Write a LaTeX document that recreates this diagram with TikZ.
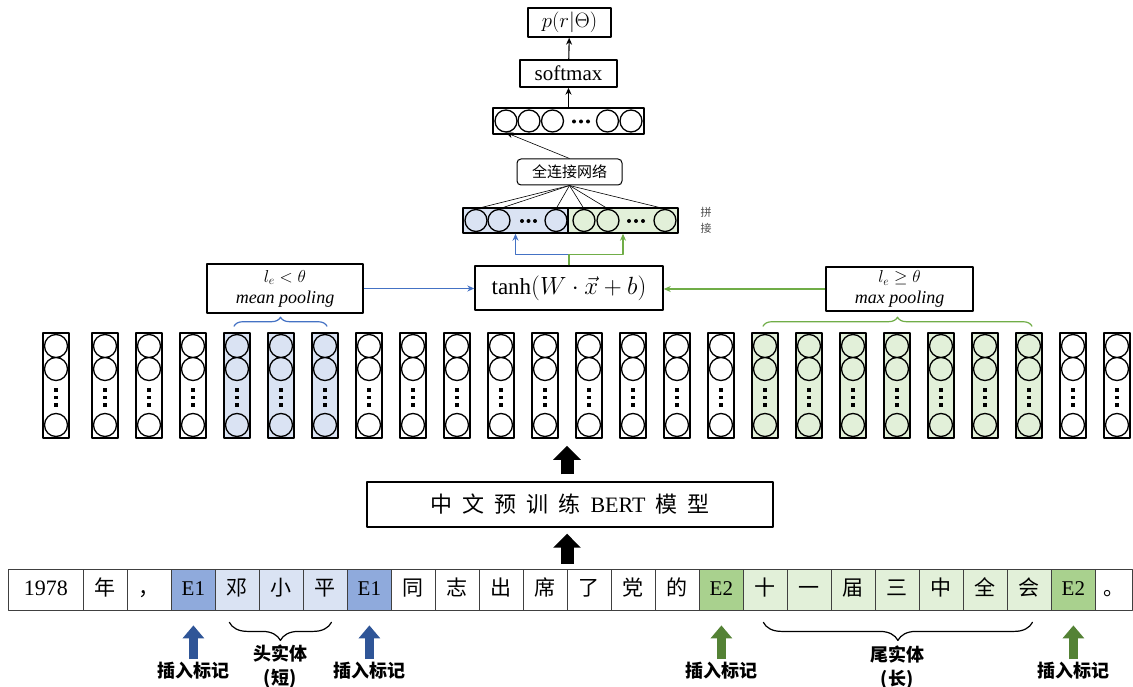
\documentclass[tikz,border=0pt]{standalone}
\usepackage{fontspec}
\setmainfont{Liberation Serif}
\newfontfamily\cjk{Noto Sans CJK SC}
\usetikzlibrary{arrows.meta,decorations.pathreplacing,positioning}
\definecolor{eblue}{HTML}{8FAADC}
\definecolor{lblue}{HTML}{DAE3F3}
\definecolor{egreen}{HTML}{A9D18E}
\definecolor{lgreen}{HTML}{E2F0D9}
\definecolor{bline}{HTML}{4472C4}
\definecolor{gline}{HTML}{70AD47}
\definecolor{barr}{HTML}{2F5597}
\definecolor{garr}{HTML}{548235}
\newcommand\fsz[2]{\fontsize{#1}{#2}\selectfont}
\newcommand\gap{\hspace{10pt}}
\begin{document}
\begin{tikzpicture}[x=1pt,y=-1pt,>={Stealth[length=7pt,width=6pt]}, line join=round,
	tok/.style={draw=black!75, line width=.8pt, minimum height=41pt, minimum width=44pt, inner sep=0pt, text height=15pt, text depth=3pt, anchor=west, font=\cjk\fsz{21}{25}},
	vcol/.style={draw, line width=1.6pt, minimum width=26pt, minimum height=105pt, inner sep=0pt},
	box/.style={draw, line width=1.4pt, inner sep=0pt},
	neu/.style={circle, draw, line width=1.3pt, minimum size=22pt, inner sep=0pt},
	bigup/.style={line width=13pt, -{Triangle[length=14pt,width=27pt]}},
	tagarr/.style={line width=9pt, -{Triangle[length=13pt,width=21pt]}},
	tag/.style={font=\cjk\bfseries\fsz{18}{24}, align=center, inner sep=2pt},
	brc/.style={decorate, line width=1.2pt, line cap=round}]
	\useasboundingbox (0,0) rectangle (1133,687);
	% input tokens
	\node[tok, minimum width=75pt, font=\fsz{22}{26}] (t1) at (8,589.5) {1978};
	\foreach \s/\f [count=\i from 2] in {年/white, ，/white, \rmfamily E1/eblue, 邓/lblue, 小/lblue, 平/lblue, \rmfamily E1/eblue, 同/white, 志/white, 出/white, 席/white, 了/white, 党/white, 的/white, \rmfamily E2/egreen, 十/lgreen, 一/lgreen, 届/lgreen, 三/lgreen, 中/lgreen, 全/lgreen, 会/lgreen, \rmfamily E2/egreen}
		\node[tok, fill=\f] (t\i) at ({83+(\i-2)*44},589.5) {\s};
	\node[tok, minimum width=37pt] (t25) at (1095,589.5) {。};
	% BERT
	\node[box, minimum width=406pt, minimum height=45pt, font=\fsz{22}{26}] (bert) at (570,504.5) {{\cjk 中\gap 文\gap 预\gap 训\gap 练}\gap BERT\gap{\cjk 模\gap 型}};
	\draw[bigup, shorten <=5pt, shorten >=6pt] (t13.north west) -- (t13.north west |- bert.south);
	% token vectors
	\foreach \i in {1,...,25}{
		\pgfmathsetmacro\cx{\i==1 ? 56 : 105+(\i-2)*44}
		\def\f{white}
		\ifnum\i>4 \ifnum\i<8 \def\f{lblue}\fi\fi
		\ifnum\i>16 \ifnum\i<24 \def\f{lgreen}\fi\fi
		\node[vcol, fill=\f] (c\i) at (\cx,385.5) {};
		\draw[line width=1.3pt] (\cx,346) circle (11.5) (\cx,369) circle (11.5) (\cx,425) circle (11.5);
		\foreach \y in {390,397.5,405} \fill (\cx-1.7,\y-1.7) rectangle ++(3.4,3.4);
	}
	\draw[bigup, shorten <=7pt, shorten >=7pt] (t13.north west |- bert.north) -- (t13.north west |- c13.south);
	% pooling
	\draw[brc, bline, decoration={brace, amplitude=9pt}] ([xshift=-3pt,yshift=6pt]c5.north) -- ([xshift=2pt,yshift=6pt]c7.north);
	\draw[brc, gline, decoration={brace, amplitude=9pt}] ([xshift=-2pt,yshift=6pt]c17.north) -- ([xshift=3pt,yshift=6pt]c23.north);
	\node[box, line width=1.2pt, minimum width=156pt, minimum height=49pt, align=center, font=\fsz{18}{21}] (mp) at (285,288.5) {$l_e<\theta$\\\textit{mean pooling}};
	\node[box, line width=1.2pt, minimum width=147pt, minimum height=44pt, align=center, font=\fsz{18}{21}] (xp) at (899.5,289) {$l_e\geq\theta$\\\textit{max pooling}};
	\node[box, minimum width=188pt, minimum height=44pt, font=\fsz{23}{27}] (th) at (569,288) {$\tanh(W\cdot\vec{x}+b)$};
	\draw[bline, line width=1.2pt, ->] (mp.east) -- (mp.east -| th.west);
	\draw[gline, line width=1.2pt, ->] (xp.west) -- (xp.west -| th.east);
	% concat
	\node[box, fill=lblue, minimum width=105pt, minimum height=25pt] (cb) at (515.5,220.5) {};
	\node[box, fill=lgreen, minimum width=110pt, minimum height=25pt] (cg) at (623,220.5) {};
	\foreach \n/\x in {b1/476, b2/499, b3/556, g1/584, g2/608, g3/665} \node[neu] (\n) at (\x,220.5) {};
	\foreach \x in {522,528.5,535,629,636,643} \fill (\x,221) circle (2);
	\draw[bline, line width=1.3pt, ->] (th.north) -- ++(0,-11) -| (cb.south);
	\draw[gline, line width=1.3pt, ->] (th.north) -- ++(0,-11) -| (cg.south);
	\node[font=\cjk\fsz{11}{16}, text=black!70, align=center] (pj) at (706,220) {拼\\接};
	% fully connected + output
	\node[draw, rounded corners=4pt, line width=1pt, minimum width=105pt, minimum height=26pt, font=\cjk\fsz{15}{18}] (fc) at (569.5,172) {全连接网络};
	\foreach \n in {b1,b2,b3,g1,g2,g3} \draw[line width=.6pt] (fc.south) -- (\n.north);
	\node[box, minimum width=151pt, minimum height=26pt] (ov) at (568.5,121) {};
	\foreach \n/\x in {o1/506, o2/529, o3/552.5, o4/607.5, o5/631} \node[neu] (\n) at (\x,121) {};
	\foreach \x in {574,581,588} \fill (\x,121.5) circle (2);
	\foreach \n in {o1,...,o5} \draw[->, line width=.6pt] (fc.north) -- (\n.south);
	\node[box, minimum width=97pt, minimum height=27pt, font=\fsz{21}{25}] (sm) at (568.5,73.5) {softmax};
	\node[box, minimum width=83pt, minimum height=29pt, font=\fsz{22}{26}] (pr) at (569.5,22.5) {$p(r|\Theta)$};
	\draw[->, line width=1.1pt] (ov) -- (sm);
	\draw[->, line width=1.1pt] (sm) -- (pr);
	% entity marks
	\draw[brc, decoration={brace, amplitude=18pt, mirror}] ([xshift=-8pt,yshift=-12pt]t5.south) -- ([xshift=6pt,yshift=-12pt]t7.south);
	\draw[brc, decoration={brace, amplitude=18pt, mirror}] ([xshift=-2pt,yshift=-12pt]t17.south) -- ([xshift=3pt,yshift=-12pt]t23.south);
	\node[tag] (ht) at (280,667) {头实体\\(短)};
	\node[tag] (wt) at (897,668) {尾实体\\(长)};
	\foreach \n/\t/\c in {m1/t4/barr, m2/t8/barr, m3/t16/garr, m4/t24/garr}{
		\node[tag] (\n) at (\t.south |- 0,671) {插入标记};
		\draw[tagarr, \c, shorten <=1pt, shorten >=15pt] (\n.north) -- (\t.south);
	}
\end{tikzpicture}
\end{document}
